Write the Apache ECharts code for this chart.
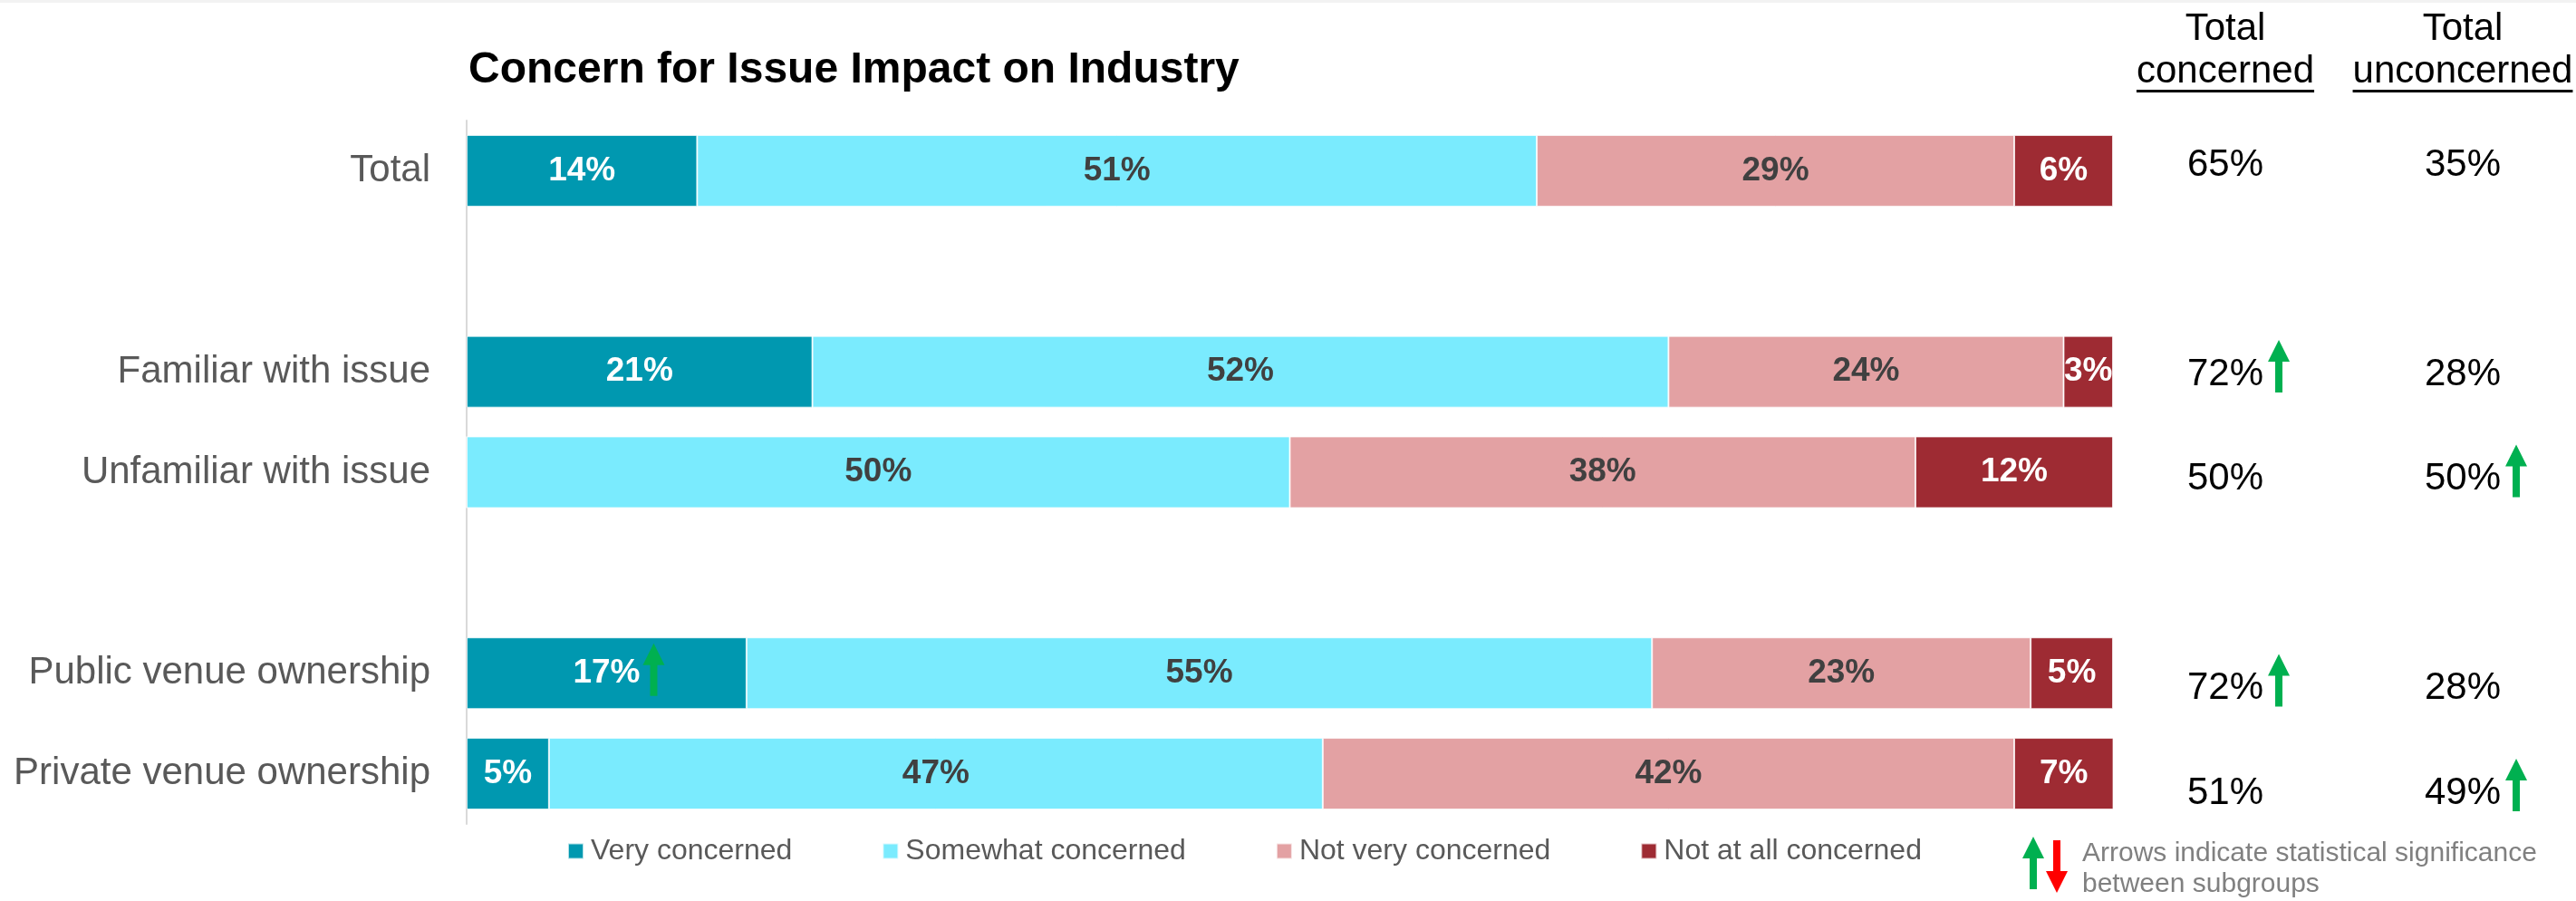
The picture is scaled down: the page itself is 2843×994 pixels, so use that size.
<!DOCTYPE html>
<html>
<head>
<meta charset="utf-8">
<script src="https://cdn.jsdelivr.net/npm/echarts@6/dist/echarts.min.js"></script>
<style>
  html, body { margin: 0; padding: 0; background: #ffffff; }
  #chart { width: 2843px; height: 994px; }
</style>
</head>
<body>
<div id="chart"></div>
<script>
// Rows of the chart; the blank entries are spacer rows between the groups.
const categories = ['Total', '', 'Familiar with issue', 'Unfamiliar with issue', ' ', 'Public venue ownership', 'Private venue ownership'];

// Share of respondents (%) per answer
const veryConcerned     = [14, null, 21, 0,  null, 17, 5];
const somewhatConcerned = [51, null, 52, 50, null, 55, 47];
const notVeryConcerned  = [29, null, 24, 38, null, 23, 42];
const notAtAllConcerned = [6,  null, 3,  12, null, 5,  7];

// Net columns on the right
const totalConcerned   = [65, null, 72, 50, null, 72, 51];
const totalUnconcerned = [35, null, 28, 50, null, 28, 49];

// Statistically significant differences (up arrows)
const concernedUp     = [false, false, true,  false, false, true,  false];
const unconcernedUp   = [false, false, false, true,  false, false, true];
const veryConcernedUp = [false, false, false, false, false, true,  false];

const seriesNames = ['Very concerned', 'Somewhat concerned', 'Not very concerned', 'Not at all concerned'];
const seriesValues = [veryConcerned, somewhatConcerned, notVeryConcerned, notAtAllConcerned];

const FONT = '"Liberation Sans", Arial, Helvetica, sans-serif';
const COLORS = ['#0098B0', '#7AEBFE', '#E3A1A3', '#9E2B33'];
const LABEL_COLORS = ['#FFFFFF', '#404040', '#404040', '#FFFFFF'];
const BAR_LABEL_SIZE = 37;
const GREEN = '#00B050';
const RED = '#FF0000';

const chart = echarts.init(document.getElementById('chart'), null, { renderer: 'canvas' });

const series = seriesValues.map((data, i) => ({
  name: seriesNames[i],
  type: 'bar',
  stack: 'share',
  barWidth: 79,
  data: data,
  itemStyle: { color: COLORS[i], borderColor: 'rgba(255,255,255,0.7)', borderWidth: 1 },
  label: {
    show: true,
    position: 'inside',
    formatter: p => (p.value ? p.value + '%' : ''),
    color: LABEL_COLORS[i],
    fontSize: BAR_LABEL_SIZE,
    fontWeight: 'bold',
    fontFamily: FONT
  },
  emphasis: { disabled: true }
}));

chart.setOption({
  animation: false,
  backgroundColor: '#ffffff',
  title: {
    text: 'Concern for Issue Impact on Industry',
    left: 517,
    top: 54,
    padding: 0,
    textStyle: { fontSize: 48, fontWeight: 'bold', color: '#000000', fontFamily: FONT }
  },
  legend: {
    data: seriesNames,
    left: 626,
    top: 923,
    padding: 0,
    itemGap: 99,
    itemWidth: 17,
    itemHeight: 17,
    icon: 'rect',
    selectedMode: false,
    textStyle: { fontSize: 32, color: '#595959', fontFamily: FONT, padding: [0, 0, 0, 3] }
  },
  grid: { left: 515, right: 511, top: 133, bottom: 85, containLabel: false },
  xAxis: {
    type: 'value', min: 0, max: 100, show: false,
    splitLine: { show: false }
  },
  yAxis: {
    type: 'category',
    data: categories,
    inverse: true,
    axisTick: { show: false },
    axisLine: { show: true, lineStyle: { color: '#D9D9D9', width: 2 } },
    axisLabel: { fontSize: 42, color: '#595959', fontFamily: FONT, margin: 40, padding: [4, 0, 0, 0] }
  },
  series: series
});

// ---- Side table, arrows and footnote ----
const measureCtx = document.createElement('canvas').getContext('2d');
function textWidth(str, size, weight) {
  measureCtx.font = (weight || 'normal') + ' ' + size + 'px ' + FONT;
  return measureCtx.measureText(str).width;
}

// Solid block arrow; dir = 1 points up, dir = -1 points down. yBase is the tail end.
function blockArrow(cx, yBase, dir, color) {
  const H = 58, headH = 24, headHalf = 12, shaftHalf = 4;
  const tip = yBase - dir * H;
  const neck = yBase - dir * (H - headH);
  return {
    type: 'polygon',
    z: 20,
    silent: true,
    shape: {
      points: [
        [cx - shaftHalf, yBase], [cx + shaftHalf, yBase], [cx + shaftHalf, neck],
        [cx + headHalf, neck], [cx, tip], [cx - headHalf, neck], [cx - shaftHalf, neck]
      ]
    },
    style: { fill: color }
  };
}

function centeredText(str, x, y, size, color, weight) {
  return {
    type: 'text', z: 20, silent: true,
    style: {
      text: str, x: x, y: y, fill: color,
      font: (weight || 'normal') + ' ' + size + 'px ' + FONT,
      align: 'center', verticalAlign: 'middle'
    }
  };
}

const COL_CONCERNED = 2456;
const COL_UNCONCERNED = 2718;
const TABLE_TOP = 182;
const TABLE_STEP = 115.5;
const VALUE_SIZE = 42;

const elements = [];

// thin grey strip along the top edge
elements.push({ type: 'rect', shape: { x: 0, y: 0, width: 2843, height: 3 }, style: { fill: '#F2F2F2' }, silent: true });

// column headers with underlines
[[COL_CONCERNED, 'concerned'], [COL_UNCONCERNED, 'unconcerned']].forEach(([x, word]) => {
  elements.push(centeredText('Total', x, 32, VALUE_SIZE, '#000000'));
  elements.push(centeredText(word, x, 79, VALUE_SIZE, '#000000'));
  const w = textWidth(word, VALUE_SIZE);
  elements.push({ type: 'rect', silent: true, shape: { x: x - w / 2, y: 99, width: w, height: 3 }, style: { fill: '#000000' } });
});

// values per row
categories.forEach((cat, i) => {
  if (totalConcerned[i] == null) return;
  const y = TABLE_TOP + i * TABLE_STEP;
  const cells = [
    [COL_CONCERNED, totalConcerned[i], concernedUp[i]],
    [COL_UNCONCERNED, totalUnconcerned[i], unconcernedUp[i]]
  ];
  cells.forEach(([x, v, up]) => {
    const str = v + '%';
    elements.push(centeredText(str, x, y, VALUE_SIZE, '#000000'));
    if (up) {
      const right = x + textWidth(str, VALUE_SIZE) / 2;
      elements.push(blockArrow(right + 17, y + 20, 1, GREEN));
    }
  });
});

// arrow next to a bar label
categories.forEach((cat, i) => {
  if (!veryConcernedUp[i]) return;
  const x0 = chart.convertToPixel({ xAxisIndex: 0 }, 0);
  const x1 = chart.convertToPixel({ xAxisIndex: 0 }, veryConcerned[i]);
  const yc = chart.convertToPixel({ yAxisIndex: 0 }, i);
  const right = (x0 + x1) / 2 + textWidth(veryConcerned[i] + '%', BAR_LABEL_SIZE, 'bold') / 2;
  elements.push(blockArrow(right + 15, yc + 25, 1, GREEN));
});

// footnote
elements.push(blockArrow(2244, 981, 1, GREEN));
elements.push(blockArrow(2270, 927, -1, RED));
elements.push({
  type: 'text', z: 20, silent: true,
  style: { text: 'Arrows indicate statistical significance', x: 2298, y: 942, fill: '#808080', font: '30px ' + FONT, align: 'left', verticalAlign: 'middle' }
});
elements.push({
  type: 'text', z: 20, silent: true,
  style: { text: 'between subgroups', x: 2298, y: 976, fill: '#808080', font: '30px ' + FONT, align: 'left', verticalAlign: 'middle' }
});

chart.setOption({ graphic: { elements: elements } });
</script>
</body>
</html>
